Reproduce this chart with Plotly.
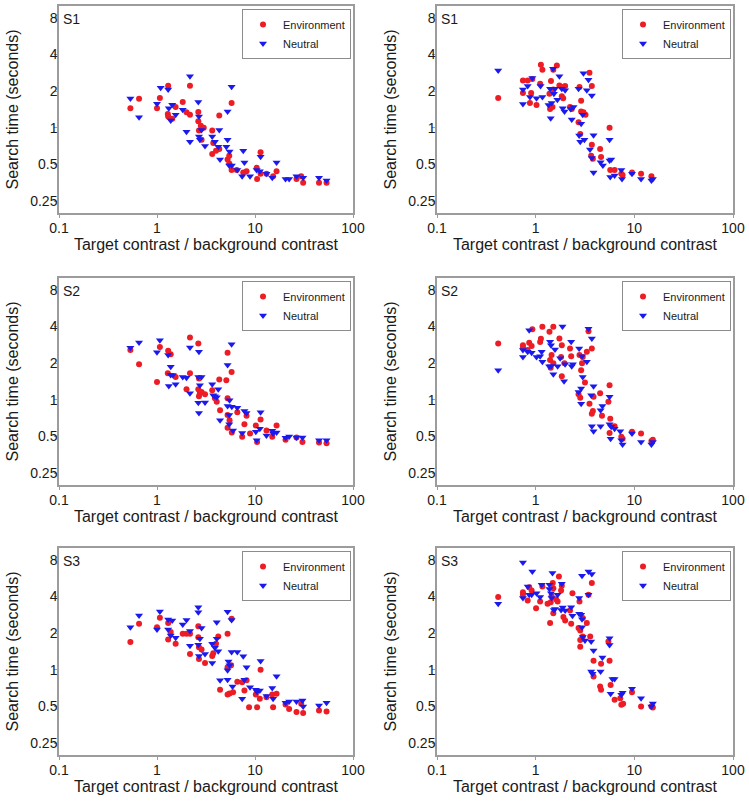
import plotly.graph_objects as go

# ---------------- data ----------------
# S1 left
S1L_ENV_X = [0.535, 0.656, 1.0, 1.07, 1.30, 1.29, 1.30, 1.43, 1.55, 1.83, 2.0, 2.17, 2.17, 2.64, 2.64, 2.68, 2.8, 3.0,
             2.85, 3.66, 3.75, 3.66, 4.0, 4.32, 4.32, 5.25, 5.46, 5.46, 5.77, 5.77, 6.5, 7.59, 8.2, 10.4, 10.5, 11.4,
             11.4, 13.1, 15.3, 16.6, 26.5, 29.6, 31, 45, 53.7]
S1L_ENV_Y = [1.45, 1.73, 1.45, 1.76, 2.22, 1.30, 1.24, 1.19, 1.48, 1.63, 1.34, 1.28, 2.22, 1.35, 1.13, 0.95, 1.04, 1.0,
             0.8, 0.95, 0.75, 0.61, 0.65, 0.67, 1.26, 0.55, 0.59, 0.51, 1.60, 0.45, 0.45, 0.43, 0.44, 0.47, 0.38, 0.63,
             0.42, 0.42, 0.40, 0.44, 0.38, 0.40, 0.354, 0.354, 0.354]
S1L_NEU_X = [0.535, 0.656, 1.0, 1.09, 1.30, 1.32, 1.38, 1.43, 1.55, 1.83, 2.17, 2.0, 2.17, 2.64, 2.68, 2.68, 2.85, 2.74,
             3.09, 3.66, 3.9, 4.22, 4.32, 4.4, 5.25, 5.25, 5.1, 5.77, 5.5, 5.46, 5.8, 6.6, 7.59, 7.8, 7.4, 8.9, 10.4,
             11.4, 11.2, 13.1, 15.0, 16.6, 20.5, 22.3, 26.5, 31, 45, 53.7]
S1L_NEU_Y = [1.74, 1.22, 1.58, 2.13, 2.06, 1.45, 1.15, 1.55, 1.28, 1.41, 2.65, 0.93, 0.77, 1.63, 1.24, 0.85, 0.96, 0.8,
             0.71, 0.85, 0.77, 0.70, 0.96, 0.55, 0.80, 1.36, 0.70, 2.17, 0.64, 0.49, 0.49, 0.45, 0.65, 0.52, 0.40, 0.40,
             0.45, 0.58, 0.44, 0.42, 0.39, 0.52, 0.38, 0.38, 0.40, 0.39, 0.39, 0.37]

# S1 right
S1R_ENV_X = [0.417, 0.743, 0.743, 0.83, 0.875, 0.9, 0.925, 1.02, 1.11, 1.13, 1.17, 1.38, 1.43, 1.40, 1.48, 1.51, 1.51,
             1.64, 1.74, 1.84, 1.9, 1.99, 1.84, 2.23, 2.32, 2.72, 2.83, 2.78, 2.89, 2.89, 3.05, 3.2, 3.51, 3.71, 3.71,
             3.8, 3.65, 4.5, 4.6, 5.61, 5.7, 6.31, 7.38, 7.6, 9.47, 11.7, 14.9]
S1R_ENV_Y = [1.76, 2.45, 1.93, 2.45, 1.60, 1.93, 2.52, 1.54, 2.3, 3.3, 3.0, 1.9, 2.42, 1.43, 1.48, 3.0, 2.06,
             3.25, 2.23, 1.82, 1.75, 2.2, 2.16, 1.48, 1.43, 1.11, 0.89, 2.16, 1.67, 1.36, 1.34, 1.28, 2.83, 2.2, 0.725,
             0.557, 0.59, 0.67, 0.575, 1.0, 0.45, 0.45, 0.42, 0.41, 0.43, 0.42, 0.40]
S1R_NEU_X = [0.417, 0.743, 0.743, 0.83, 0.875, 0.925, 1.02, 1.12, 1.17, 1.35, 1.40, 1.42, 1.45, 1.50, 1.53, 1.57, 1.66,
             1.74, 1.84, 1.88, 1.96, 1.99, 2.27, 2.32, 2.42, 2.72, 2.76, 2.83, 2.89, 3.0, 3.12, 3.05, 3.30, 3.43, 3.71,
             3.86, 3.86, 3.55, 3.71, 4.55, 4.80, 5.61, 5.61, 5.83, 5.7, 6.31, 7.38, 7.5, 9.47, 11.7, 14.9, 15.4]
S1R_NEU_Y = [2.96, 2.06, 1.57, 2.2, 1.79, 2.57, 1.75, 2.2, 1.79, 1.54, 2.09, 1.2, 1.60, 3.05, 1.90, 2.09, 1.7,
             2.65, 2.09, 1.45, 1.36, 2.03, 1.43, 1.17, 1.48, 2.09, 0.865, 0.77, 1.08, 1.28, 0.8, 2.8, 2.03, 2.48, 1.84,
             0.87, 0.43, 0.664, 0.565, 0.522, 0.49, 0.80, 0.54, 0.55, 0.394, 0.406, 0.45, 0.38, 0.42, 0.38, 0.37, 0.38]

# S2 left
S2L_ENV_X = [0.535, 0.656, 1.0, 1.07, 1.30, 1.38, 1.29, 1.55, 2.17, 2.17, 2.0, 2.64, 2.68, 2.64, 2.74, 2.68, 2.85, 3.09,
             3.66, 3.9, 4.07, 4.32, 4.4, 5.25, 5.1, 5.25, 5.25, 5.77, 5.25, 5.5, 5.8, 6.6, 7.4, 7.8, 8.2, 8.9, 10.2,
             10.5, 11.4, 13.1, 15.0, 16.6, 20.5, 26.5, 30.5, 45, 53.7]
S2L_ENV_Y = [2.56, 1.96, 1.40, 2.72, 2.53, 2.37, 1.65, 1.54, 3.25, 1.65, 1.22, 2.9, 1.50, 1.22, 1.13, 1.07, 1.16, 1.11,
             1.2, 1.03, 0.963, 1.47, 0.82, 2.43, 1.45, 1.03, 0.75, 1.69, 0.59, 0.68, 0.54, 0.79, 0.497, 0.63, 0.74, 0.53,
             0.616, 0.45, 0.69, 0.56, 0.497, 0.616, 0.47, 0.49, 0.45, 0.447, 0.44]
S2L_NEU_X = [0.535, 0.656, 1.0, 1.07, 1.30, 1.38, 1.32, 1.38, 1.45, 1.55, 1.83, 2.0, 2.17, 2.17, 2.64, 2.68, 2.64, 2.68,
             2.85, 2.74, 3.09, 3.66, 3.75, 3.9, 4.07, 4.22, 4.4, 5.25, 5.25, 5.46, 5.46, 5.77, 5.5, 5.8, 5.97, 6.6, 7.4,
             7.8, 8.2, 10.4, 10.2, 11.4, 11.2, 13.1, 15.0, 15.3, 16.6, 20.5, 22.3, 26.5, 30.5, 45, 53.7]
S2L_NEU_Y = [2.67, 2.96, 2.46, 3.09, 2.33, 1.87, 1.3, 1.6, 1.6, 1.34, 1.54, 1.52, 2.69, 1.13, 1.54, 2.48, 0.945, 0.78,
             1.54, 1.32, 0.95, 1.34, 1.09, 1.07, 1.05, 1.22, 0.68, 1.93, 0.89, 0.75, 0.63, 2.86, 0.993, 0.876, 0.56, 0.86,
             0.535, 0.81, 0.78, 0.467, 0.546, 0.79, 0.58, 0.51, 0.557, 0.53, 0.54, 0.488, 0.5, 0.49, 0.49, 0.467, 0.467]

# S2 right
S2R_ENV_X = [0.417, 0.743, 0.743, 0.83, 0.86, 0.91, 0.925, 1.11, 1.13, 1.17, 1.38, 1.40, 1.42, 1.45, 1.51, 1.51, 1.74,
             1.81, 1.84, 1.84, 1.96, 2.23, 2.29, 2.72, 2.83, 2.78, 2.89, 2.95, 3.0, 3.16, 3.30, 3.43, 3.71, 3.51, 3.71,
             3.8, 3.86, 4.5, 4.7, 5.61, 5.46, 5.7, 5.61, 6.31, 7.38, 7.6, 9.47, 11.7, 14.9, 15.4]
S2R_ENV_Y = [2.9, 2.81, 2.69, 2.56, 2.94, 2.76, 3.8, 2.99, 3.17, 3.98, 3.62, 2.12, 1.83, 2.33, 3.98, 2.0, 3.19,
             2.25, 2.8, 1.56, 2.0, 2.64, 2.28, 1.11, 1.04, 2.33, 1.75, 2.0, 2.25, 1.39, 2.48, 3.66, 2.64, 0.93, 0.77,
             0.81, 1.06, 1.13, 0.74, 1.32, 0.963, 0.70, 0.535, 0.608, 0.497, 0.48, 0.546, 0.53, 0.46, 0.47]
S2R_NEU_X = [0.417, 0.743, 0.743, 0.83, 0.86, 0.91, 1.02, 1.11, 1.15, 1.17, 1.37, 1.40, 1.43, 1.43, 1.51, 1.57, 1.67,
             1.77, 1.87, 1.94, 1.99, 2.29, 2.32, 2.38, 2.76, 2.95, 3.0, 2.72, 2.89, 2.89, 3.30, 3.43, 3.71, 3.86, 3.65,
             3.71, 3.86, 4.55, 4.55, 4.75, 5.61, 5.61, 5.75, 5.83, 6.31, 7.2, 7.38, 7.6, 9.47, 11.7, 14.9, 15.4]
S2R_NEU_Y = [1.75, 2.56, 2.25, 2.48, 3.73, 2.43, 2.25, 2.28, 2.48, 2.05, 1.89, 3.0, 2.81, 1.89, 1.62, 2.59, 1.89,
             2.19, 4.0, 1.42, 1.96, 3.0, 1.89, 1.96, 2.64, 2.28, 1.54, 1.16, 1.24, 0.93, 2.05, 3.84, 3.19, 1.29, 1.09,
             0.608, 0.553, 0.608, 0.82, 0.89, 1.06, 0.63, 0.48, 0.60, 0.58, 0.553, 0.467, 0.43, 0.53, 0.45, 0.43, 0.45]

# S3 left
S3L_ENV_X = [0.535, 0.656, 1.0, 1.07, 1.30, 1.30, 1.38, 1.55, 1.83, 2.0, 2.17, 2.17, 2.64, 2.64, 2.68, 2.68, 2.85, 3.09,
             3.66, 3.75, 4.0, 4.22, 4.4, 5.25, 5.25, 5.25, 5.5, 5.77, 5.7, 5.97, 6.6, 7.4, 7.8, 8.2, 8.7, 10.2, 10.5,
             11.2, 11.4, 13.1, 15.0, 15.3, 16.6, 20.5, 22.3, 26.5, 29.6, 31, 45, 53.7]
S3L_ENV_Y = [1.69, 2.39, 2.24, 2.67, 2.42, 1.77, 2.04, 1.64, 1.98, 1.98, 1.98, 1.35, 2.28, 1.85, 1.23, 1.53, 1.47, 1.14,
             1.3, 1.37, 1.64, 1.88, 0.685, 1.98, 1.05, 0.627, 0.64, 2.62, 1.09, 0.655, 0.80, 0.79, 0.676, 0.82, 0.494,
             0.627, 0.494, 0.578, 1.0, 0.596, 0.627, 0.494, 0.635, 0.52, 0.478, 0.45, 0.526, 0.443, 0.463, 0.455]
S3L_NEU_X = [0.535, 0.656, 1.0, 1.07, 1.30, 1.30, 1.38, 1.43, 1.55, 1.83, 2.0, 2.17, 2.17, 2.64, 2.64, 2.64, 2.68, 2.85,
             2.74, 3.09, 3.66, 3.66, 3.9, 4.07, 4.07, 4.22, 4.4, 5.25, 5.25, 5.25, 5.37, 5.5, 5.77, 5.9, 5.77, 6.6, 7.4,
             7.59, 7.8, 8.2, 8.9, 10.2, 10.5, 11.4, 11.2, 13.1, 15.0, 15.3, 16.6, 20.5, 22.3, 26.5, 30.5, 31, 45, 53.7]
S3L_NEU_Y = [2.24, 2.79, 2.14, 3.01, 2.59, 2.14, 1.91, 2.54, 1.83, 2.36, 2.57, 2.08, 1.58, 3.27, 2.97, 1.61, 1.3, 2.2,
             1.8, 1.35, 1.64, 1.14, 1.52, 1.8, 2.46, 1.42, 0.82, 3.0, 0.83, 0.99, 1.17, 1.09, 2.57, 0.73, 1.4, 1.4, 0.578,
             1.29, 0.83, 1.05, 0.72, 0.685, 0.66, 1.18, 0.676, 0.61, 0.71, 0.578, 0.887, 0.536, 0.55, 0.55, 0.56, 0.5,
             0.51, 0.536]

# S3 right
S3R_ENV_X = [0.417, 0.743, 0.743, 0.83, 0.86, 0.91, 1.01, 1.11, 1.17, 1.32, 1.40, 1.42, 1.45, 1.49, 1.51, 1.51, 1.61,
             1.67, 1.72, 1.81, 1.84, 1.91, 1.99, 2.23, 2.29, 2.36, 2.72, 2.78, 2.83, 2.83, 2.83, 3.0, 3.0, 3.30, 3.43,
             3.71, 3.57, 3.86, 3.86, 4.6, 4.5, 4.6, 5.46, 5.61, 5.75, 6.31, 7.2, 7.38, 7.7, 9.47, 11.7, 14.9, 15.4]
S3R_ENV_Y = [3.96, 4.34, 4.13, 3.71, 4.77, 4.48, 3.21, 3.64, 4.83, 3.48, 2.42, 3.58, 4.05, 5.15, 4.68, 2.92, 3.8,
             3.64, 5.84, 4.48, 4.9, 2.71, 2.54, 3.07, 2.39, 4.26, 2.2, 3.64, 2.1, 1.76, 1.55, 2.66, 1.88, 2.42, 4.13,
             5.15, 1.88, 1.19, 0.88, 1.12, 0.73, 0.685, 1.71, 1.19, 0.75, 0.567, 0.585, 0.516, 0.526, 0.656, 0.5, 0.5,
             0.49]
S3R_NEU_X = [0.417, 0.743, 0.743, 0.83, 0.86, 0.925, 0.91, 1.02, 1.11, 1.15, 1.38, 1.38, 1.43, 1.45, 1.48, 1.53, 1.57,
             1.67, 1.81, 1.84, 1.88, 1.99, 2.29, 2.36, 2.76, 2.76, 2.89, 2.95, 2.95, 2.95, 3.0, 3.16, 3.43, 3.43, 3.71,
             3.65, 3.86, 3.65, 3.77, 4.55, 4.75, 5.61, 5.61, 5.75, 6.0, 6.31, 7.38, 7.6, 9.47, 11.7, 14.9, 15.4]
S3R_NEU_Y = [3.48, 7.6, 3.88, 4.83, 4.13, 6.42, 4.13, 4.26, 3.96, 5.0, 5.0, 4.6, 4.26, 3.88, 6.22, 3.1, 3.15,
             4.13, 3.1, 5.09, 3.25, 3.07, 3.27, 2.78, 3.88, 2.88, 2.83, 5.91, 2.6, 2.24, 1.86, 1.74, 6.42, 4.13, 6.13,
             1.71, 1.44, 0.97, 0.93, 0.97, 1.26, 1.82, 1.6, 0.635, 0.84, 0.84, 0.624, 0.65, 0.70, 0.585, 0.5, 0.53]

PANELS = [
    ("S1", S1L_ENV_X, S1L_ENV_Y, S1L_NEU_X, S1L_NEU_Y),
    ("S1", S1R_ENV_X, S1R_ENV_Y, S1R_NEU_X, S1R_NEU_Y),
    ("S2", S2L_ENV_X, S2L_ENV_Y, S2L_NEU_X, S2L_NEU_Y),
    ("S2", S2R_ENV_X, S2R_ENV_Y, S2R_NEU_X, S2R_NEU_Y),
    ("S3", S3L_ENV_X, S3L_ENV_Y, S3L_NEU_X, S3L_NEU_Y),
    ("S3", S3R_ENV_X, S3R_ENV_Y, S3R_NEU_X, S3R_NEU_Y),
]

SERIES_NAMES = ["Environment", "Neutral"]
X_TICKS = [0.1, 1, 10, 100]
X_TICKTEXT = ["0.1", "1", "10", "100"]
Y_TICKS = [0.25, 0.5, 1, 2, 4, 8]
Y_TICKTEXT = ["0.25", "0.5", "1", "2", "4", "8"]
X_TITLE = "Target contrast / background contrast"
Y_TITLE = "Search time (seconds)"

# ---------------- layout geometry ----------------
W, H = 749, 801
COLS = [(59, 353), (437, 733)]             # pixel left/right of plot areas
ROWS = [(6, 213), (278, 485), (548, 755)]  # pixel top/bottom of plot areas

RED = "#ee1c24"
BLUE = "#1a1aee"
FRAME = "#9c9c9c"
TXT = "#1a1a1a"
FONT = "Liberation Sans, Arial, sans-serif"

fig = go.Figure()
layout = dict(
    width=W, height=H,
    margin=dict(l=0, r=0, t=0, b=0),
    paper_bgcolor="white", plot_bgcolor="white",
    font=dict(family=FONT, color=TXT),
    showlegend=True,
)
annotations = []

for i, (label, ex, ey, nx, ny) in enumerate(PANELS):
    r, c = divmod(i, 2)
    x0, x1 = COLS[c]
    y0, y1 = ROWS[r]
    dx = [x0 / W, x1 / W]
    dy = [1 - y1 / H, 1 - y0 / H]
    n = i + 1
    xa = "x" if n == 1 else f"x{n}"
    ya = "y" if n == 1 else f"y{n}"
    lg = "legend" if n == 1 else f"legend{n}"

    fig.add_trace(go.Scatter(
        x=ex, y=ey, mode="markers", name=SERIES_NAMES[0],
        marker=dict(symbol="circle", size=6, color=RED),
        xaxis=xa, yaxis=ya, legend=lg))
    fig.add_trace(go.Scatter(
        x=nx, y=ny, mode="markers", name=SERIES_NAMES[1],
        marker=dict(symbol="triangle-down", size=7, color=BLUE),
        xaxis=xa, yaxis=ya, legend=lg))

    xkey = "xaxis" if n == 1 else f"xaxis{n}"
    ykey = "yaxis" if n == 1 else f"yaxis{n}"
    layout[xkey] = dict(
        domain=dx, anchor=ya, type="log", range=[-1, 2],
        tickvals=X_TICKS, ticktext=X_TICKTEXT,
        showgrid=False, zeroline=False,
        showline=True, mirror=True, linecolor=FRAME, linewidth=1.5,
        ticks="outside", ticklen=3, tickcolor=FRAME,
        tickfont=dict(size=14, color=TXT),
        ticklabelstandoff=-2,
        title=dict(text=X_TITLE, font=dict(size=16, color=TXT), standoff=4),
        automargin=False,
    )
    layout[ykey] = dict(
        domain=dy, anchor=xa, type="log", range=[-0.699, 1.0],
        tickvals=Y_TICKS, ticktext=Y_TICKTEXT,
        showgrid=False, zeroline=False,
        showline=True, mirror=True, linecolor=FRAME, linewidth=1.5,
        ticks="outside", ticklen=3, tickcolor=FRAME,
        tickfont=dict(size=14, color=TXT),
        ticklabelstandoff=-6,
        title=dict(text=Y_TITLE, font=dict(size=16, color=TXT), standoff=8),
        automargin=False,
    )
    layout[lg] = dict(
        x=(x1 - 2) / W, y=1 - (y0 + 3) / H, xanchor="right", yanchor="top",
        bgcolor="white", bordercolor="#8c8c8c", borderwidth=1,
        font=dict(size=11, color=TXT),
        itemsizing="trace", itemwidth=30, tracegroupgap=0,
    )
    annotations.append(dict(
        text=label, x=(x0 + 2) / W, y=1 - (y0 + 13) / H, xref="paper", yref="paper",
        xanchor="left", yanchor="middle", showarrow=False,
        font=dict(size=14, color=TXT),
    ))

layout["annotations"] = annotations
fig.update_layout(**layout)
fig.write_html("out.html", config={"displayModeBar": False},
               post_script="document.body.style.margin='0px';")
